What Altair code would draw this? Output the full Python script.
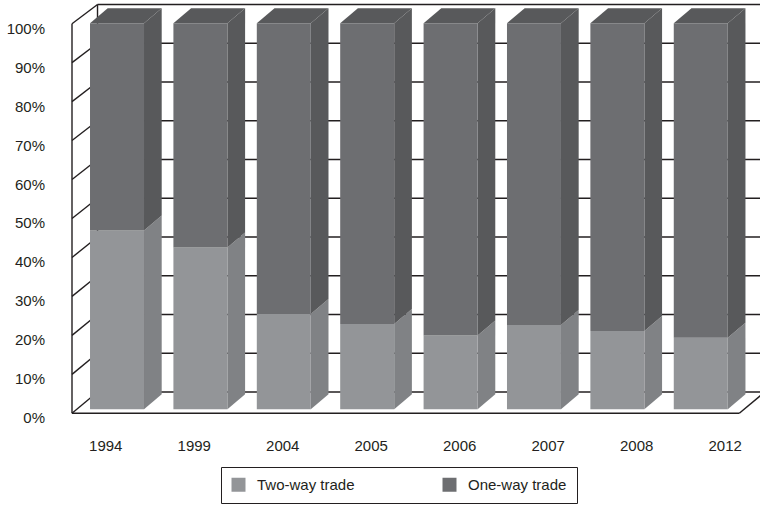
import altair as alt
import pandas as pd

# ---------------- data ----------------
years = ["1994", "1999", "2004", "2005", "2006", "2007", "2008", "2012"]
two_way = [46.3, 41.9, 24.7, 22.1, 19.1, 21.8, 20.3, 18.5]
one_way = [round(100 - v, 1) for v in two_way]
series = ["Two-way trade", "One-way trade"]
y_ticks = [0, 10, 20, 30, 40, 50, 60, 70, 80, 90, 100]

# ---------------- style ----------------
front_colors = ["#939598", "#6d6e71"]
side_colors = ["#808285", "#58595b"]
top_color = "#58595b"
ink = "#231f20"
FONT = "Liberation Sans"

# projection / layout constants (in scale units)
X_MIN, X_MAX = -0.216, 8.034
Y_MIN, Y_MAX = -0.18, 106.08
BAR_W, BAR_DX, BAR_DY = 0.6475, 0.2122, 3.85
BAR_BASE, BAR_K = 1.03, 0.991
WALL_DX, WALL_DY, WALL_K = 0.306, 5.47, 0.9946
FLOOR_RIGHT = 7.786
LABEL_START, LABEL_STEP = 0.183, 1.061

# ---------------- build geometry tables ----------------
fronts, faces, rules = [], [], []
for i, yr in enumerate(years):
    L = float(i)
    segs = [(series[0], 0.0, two_way[i], 0), (series[1], two_way[i], 100.0, 1)]
    for name, a, b, k in segs:
        lo = BAR_BASE + BAR_K * a
        hi = BAR_BASE + BAR_K * b
        fronts.append(dict(series=name, year=yr, x=L, x2=L + BAR_W, y=lo, y2=hi))
        pid = f"side-{yr}-{k}"
        faces.append(dict(pid=pid, fill=side_colors[k], x=L + BAR_W, y=lo, y2=hi))
        faces.append(dict(pid=pid, fill=side_colors[k], x=L + BAR_W + BAR_DX,
                          y=lo + BAR_DY, y2=hi + BAR_DY))
    yt = BAR_BASE + BAR_K * 100.0
    pid = f"top-{yr}"
    faces.append(dict(pid=pid, fill=top_color, x=L, y=yt, y2=yt))
    faces.append(dict(pid=pid, fill=top_color, x=L + BAR_DX, y=yt, y2=yt + BAR_DY))
    faces.append(dict(pid=pid, fill=top_color, x=L + BAR_W, y=yt, y2=yt + BAR_DY))
    faces.append(dict(pid=pid, fill=top_color, x=L + BAR_W + BAR_DX,
                      y=yt + BAR_DY, y2=yt + BAR_DY))

for p in y_ticks:
    yb = WALL_DY + WALL_K * p
    # back wall gridline
    rules.append(dict(x=X_MIN + WALL_DX, x2=X_MAX, y=yb, y2=yb))
    # left wall diagonal
    rules.append(dict(x=X_MIN, x2=X_MIN + WALL_DX, y=float(p), y2=yb))
# left wall verticals
rules.append(dict(x=X_MIN, x2=X_MIN, y=0.0, y2=100.0))
rules.append(dict(x=X_MIN + WALL_DX, x2=X_MIN + WALL_DX, y=WALL_DY, y2=WALL_DY + WALL_K * 100))
# floor
rules.append(dict(x=X_MIN, x2=FLOOR_RIGHT, y=0.0, y2=0.0))
rules.append(dict(x=FLOOR_RIGHT, x2=FLOOR_RIGHT + WALL_DX, y=0.0, y2=WALL_DY))

fronts_df = pd.DataFrame(fronts)
faces_df = pd.DataFrame(faces)
rules_df = pd.DataFrame(rules)

label_positions = [LABEL_START + LABEL_STEP * i for i in range(len(years))]
year_arr = "[" + ",".join(f"'{y}'" for y in years) + "]"

x_scale = alt.Scale(domain=[X_MIN, X_MAX], nice=False, zero=False)
y_scale = alt.Scale(domain=[Y_MIN, Y_MAX], nice=False, zero=False)

x_axis = alt.Axis(
    values=label_positions,
    labelExpr=f"{year_arr}[round((datum.value - {LABEL_START}) / {LABEL_STEP})]",
    domain=False, ticks=False, tickSize=0, grid=False, title=None,
    labelPadding=24, labelFontSize=15, labelFont=FONT, labelColor=ink,
    labelFlush=False, labelOverlap=False,
)
y_axis = alt.Axis(
    values=y_ticks,
    labelExpr="datum.value + '%'",
    domain=False, ticks=False, tickSize=0, grid=False, title=None,
    labelPadding=27.5, labelOffset=4.5, labelFontSize=15, labelFont=FONT,
    labelColor=ink, labelFlush=False, labelOverlap=False,
)


def X(f):
    return alt.X(f, scale=x_scale, axis=x_axis, title=None)


def Y(f):
    return alt.Y(f, scale=y_scale, axis=y_axis, title=None, stack=None)


rule_layer = alt.Chart(rules_df).mark_rule(color=ink, strokeWidth=1.4).encode(
    x=X("x:Q"), x2="x2:Q", y=Y("y:Q"), y2="y2:Q"
)

face_layer = alt.Chart(faces_df).mark_area(orient="vertical", interpolate="linear").encode(
    x=X("x:Q"), y=Y("y:Q"), y2="y2:Q",
    fill=alt.Fill("fill:N", scale=None),
    detail="pid:N",
)

front_layer = alt.Chart(fronts_df).mark_rect().encode(
    x=X("x:Q"), x2="x2:Q", y=Y("y:Q"), y2="y2:Q",
    color=alt.Color(
        "series:N",
        scale=alt.Scale(domain=series, range=front_colors),
        sort=series,
        legend=alt.Legend(
            title=None, orient="none", direction="horizontal",
            legendX=149, legendY=467,
            symbolType="square", symbolSize=196, symbolStrokeWidth=0,
            labelFontSize=15, labelFont=FONT, labelColor=ink, labelOffset=11,
            columnPadding=87, padding=10,
            strokeColor=ink, fillColor="white",
        ),
    ),
)

chart = alt.layer(rule_layer, face_layer, front_layer).properties(
    width=688, height=414,
    autosize=alt.AutoSizeParams(type="none"),
    padding={"left": 72, "top": 0, "right": 0, "bottom": 95},
    background="white",
).configure_view(stroke=None)

chart.save("out.html", embed_options={"renderer": "svg", "actions": False})
